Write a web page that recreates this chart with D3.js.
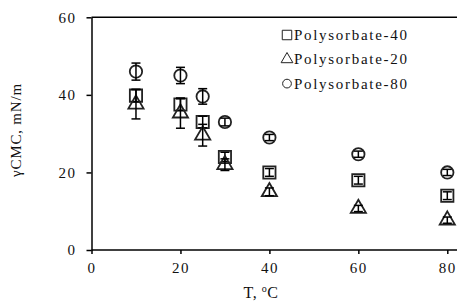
<!DOCTYPE html>
<html>
<head>
<meta charset="utf-8">
<script src="https://cdn.jsdelivr.net/npm/d3@7"></script>
<style>
  body { margin: 0; background: #fff; }
  text { font-family: "Liberation Serif", "DejaVu Serif", serif; fill: #111; }
</style>
</head>
<body>
<div id="chart"></div>
<script>
const temps = [10, 20, 25, 30, 40, 60, 80]
const p40 = [39.8, 37.5, 33, 24, 20, 18, 14]
const p40err = [1.6, 1.5, 1.5, 1.2, 1, 1, 1]
const p20 = [37.6, 35.3, 29.6, 22, 15, 10.7, 7.7]
const p20err = [3.8, 3.9, 2.8, 1.5, 1, 0.8, 0.8]
const p80 = [46, 45, 39.6, 33, 29, 24.7, 20]
const p80err = [2.2, 2.1, 2, 1, 0.8, 0.8, 0.8]
const xTicks = [0, 20, 40, 60, 80]
const yTicks = [0, 20, 40, 60]

const width = 457, height = 301

const series = [
  { name: 'Polysorbate-40', vals: p40, err: p40err, sym: d3.symbolSquare, size: 150 },
  { name: 'Polysorbate-20', vals: p20, err: p20err, sym: d3.symbolTriangle, size: 100 },
  { name: 'Polysorbate-80', vals: p80, err: p80err, sym: d3.symbolCircle, size: 120 }
]

const svg = d3.select('#chart').append('svg').attr('width', width).attr('height', height)

const x = d3.scaleLinear().domain([0, 80]).range([91.5, 447.3])
const y = d3.scaleLinear().domain([0, 60]).range([250, 17.3])

// frame: top + bottom run to the right edge, no right side
svg.append('line').attr('x1', x(0)).attr('x2', width).attr('y1', y(60)).attr('y2', y(60))
  .attr('stroke', '#000').attr('stroke-width', 1.5)
svg.append('line').attr('x1', x(0)).attr('x2', width).attr('y1', y(0)).attr('y2', y(0))
  .attr('stroke', '#000').attr('stroke-width', 1.5)

const xAxis = svg.append('g').attr('transform', `translate(0,${y(0)})`)
  .call(d3.axisBottom(x).tickValues(xTicks).tickSize(4).tickSizeOuter(0).tickPadding(8))
xAxis.select('.domain').remove()
const yAxis = svg.append('g').attr('transform', `translate(${x(0)},0)`)
  .call(d3.axisLeft(y).tickValues(yTicks).tickSize(5).tickSizeOuter(0).tickPadding(10))
yAxis.select('.domain').attr('stroke-width', 1.5)
svg.selectAll('.tick line').attr('stroke', '#000').attr('stroke-width', 1.5)
svg.selectAll('.tick text').style('font-size', '15px').style('letter-spacing', '1.5px')
  .style('font-family', '"Liberation Serif", serif').attr('fill', '#111')

// axis titles
const xt = svg.append('text').attr('x', 261).attr('y', 298).attr('text-anchor', 'middle')
  .style('font-size', '16px').style('letter-spacing', '0.5px')
xt.append('tspan').text('T, ')
xt.append('tspan').text('o').style('font-size', '10px').attr('dy', -6)
xt.append('tspan').text('C').attr('dy', 6)

svg.append('text').attr('transform', 'translate(21,130) rotate(-90)').attr('text-anchor', 'middle')
  .style('font-size', '15px').style('letter-spacing', '0.8px')
  .text('γCMC, mN/m')

// points with error bars
series.forEach(s => {
  const g = svg.append('g')
  const pts = temps.map((t, i) => ({ t, v: s.vals[i], e: s.err[i] }))
  g.selectAll('path.m').data(pts).enter().append('path')
    .attr('class', 'm')
    .attr('d', d3.symbol().type(s.sym).size(s.size))
    .attr('transform', d => `translate(${x(d.t)},${y(d.v)})`)
    .attr('fill', 'none').attr('stroke', '#222').attr('stroke-width', 1.8)
  g.selectAll('line.e').data(pts).enter().append('line')
    .attr('class', 'e')
    .attr('x1', d => x(d.t)).attr('x2', d => x(d.t))
    .attr('y1', d => y(d.v - d.e)).attr('y2', d => y(d.v + d.e))
    .attr('stroke', '#000').attr('stroke-width', 1.5)
  ;['-', '+'].forEach(sg => {
    g.selectAll('line.c' + (sg === '-' ? 'l' : 'h')).data(pts).enter().append('line')
      .attr('x1', d => x(d.t) - 4.5).attr('x2', d => x(d.t) + 4.5)
      .attr('y1', d => y(sg === '-' ? d.v - d.e : d.v + d.e))
      .attr('y2', d => y(sg === '-' ? d.v - d.e : d.v + d.e))
      .attr('stroke', '#000').attr('stroke-width', 1.5)
  })
})

// legend
const leg = svg.append('g')
const legSizes = [90, 60, 60]
series.forEach((s, i) => {
  const cy = 35 + i * 24.3
  leg.append('path').attr('d', d3.symbol().type(s.sym).size(legSizes[i]))
    .attr('transform', `translate(287,${cy})`)
    .attr('fill', 'none').attr('stroke', '#222').attr('stroke-width', 1)
  leg.append('text').attr('x', 294).attr('y', cy + 5)
    .style('font-size', '15px').style('letter-spacing', '1.7px')
    .text(s.name)
})
</script>
</body>
</html>
